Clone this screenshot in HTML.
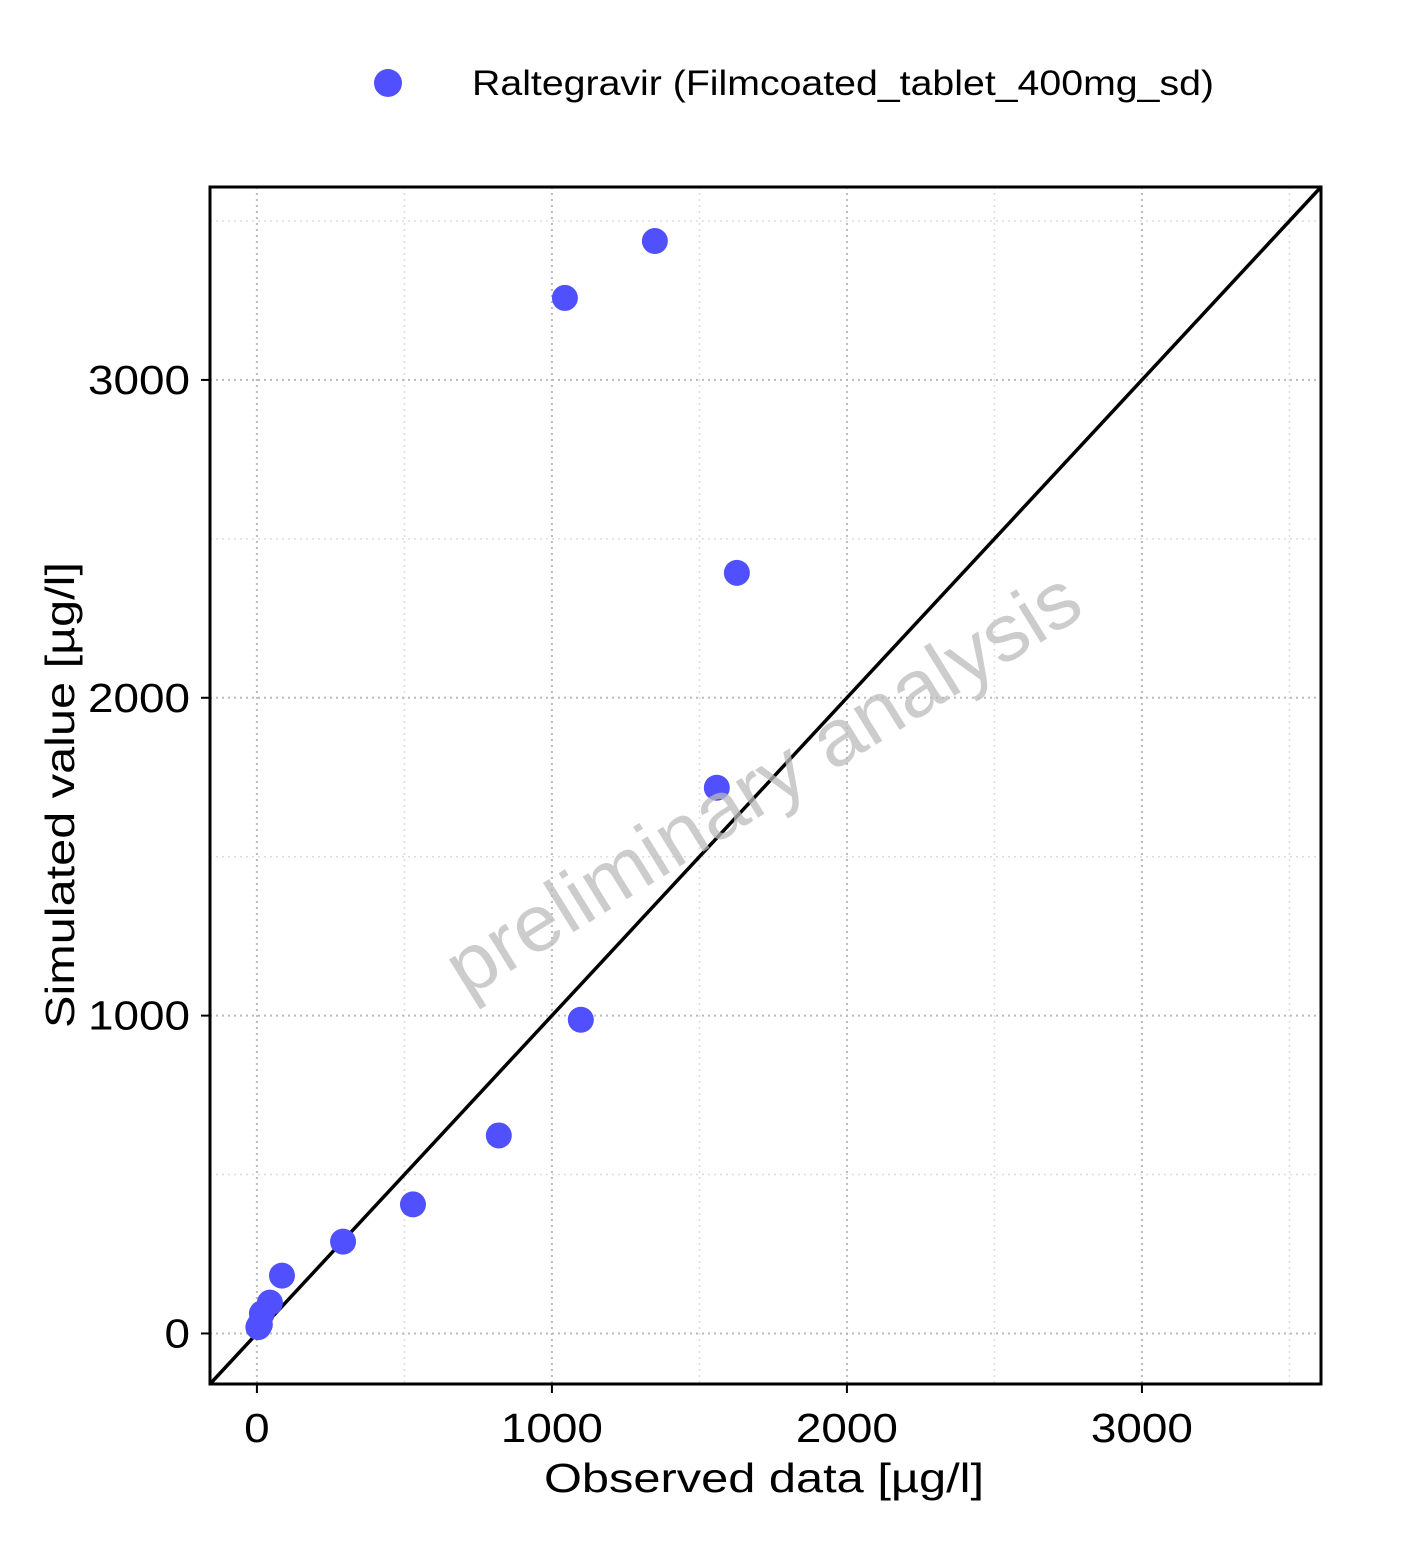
<!DOCTYPE html>
<html><head><meta charset="utf-8"><style>
html,body{margin:0;padding:0;background:#fff;}
svg{display:block;font-family:"Liberation Sans",sans-serif;}
</style></head><body>
<svg id="chart" width="1406" height="1546" viewBox="0 0 1406 1546" xmlns="http://www.w3.org/2000/svg">
<rect width="1406" height="1546" fill="#fff"/>
<g id="grid"></g>
<g id="marks"></g>
<g id="axes"></g>
<g>
<circle cx="388" cy="83" r="14" fill="#5050FF"/>
<text x="472" y="95" font-size="35" fill="#000" textLength="742" lengthAdjust="spacingAndGlyphs">Raltegravir (Filmcoated_tablet_400mg_sd)</text>
</g>
<text x="770" y="808" font-size="80" fill="#bbb" fill-opacity="0.75" text-anchor="middle" textLength="730" lengthAdjust="spacingAndGlyphs" transform="rotate(-31.8 770 795)">preliminary analysis</text>
<text x="764" y="1492" font-size="41" text-anchor="middle" textLength="440" lengthAdjust="spacingAndGlyphs">Observed data [µg/l]</text>
<text x="0" y="0" font-size="41" text-anchor="middle" textLength="466" lengthAdjust="spacingAndGlyphs" transform="translate(74 795) rotate(-90)">Simulated value [µg/l]</text>
</svg>
<script>
const obsX = [1044, 1349, 1627, 1559, 1098, 820, 529, 292, 85, 44, 17, 10, 5];
const simY = [3258, 3437, 2393, 1717, 987, 623, 406, 289, 182, 97, 63, 28, 20];
const majorTicks = [0, 1000, 2000, 3000];
const minorTicks = [500, 1500, 2500, 3500];
const tickLabels = ["0", "1000", "2000", "3000"];

const L=210, R=1321, T=187, B=1384;
const dMin=-159, dMax=3607;
const xs = v => L + (v - dMin) / (dMax - dMin) * (R - L);
const ys = v => B - (v - dMin) / (dMax - dMin) * (B - T);
const NS="http://www.w3.org/2000/svg";
function mk(parent, tag, attrs){const e=document.createElementNS(NS,tag);for(const k in attrs)e.setAttribute(k,attrs[k]);parent.appendChild(e);return e;}
const grid=document.getElementById('grid'), marks=document.getElementById('marks'), axes=document.getElementById('axes');

minorTicks.forEach(v=>{
  let g=mk(grid,'line',{x1:xs(v),x2:xs(v),y1:T,y2:B,stroke:'#ddd','stroke-width':1.5,'stroke-dasharray':'2 4'});
  
  
  let h=mk(grid,'line',{x1:L,x2:R,y1:ys(v),y2:ys(v),stroke:'#ddd','stroke-width':1.5,'stroke-dasharray':'2 4'});
  
  
});
majorTicks.forEach((v,i)=>{
  let g=mk(grid,'line',{x1:xs(v),x2:xs(v),y1:T,y2:B,stroke:'#bbb','stroke-width':2,'stroke-dasharray':'2 4'});
  
  
  let h=mk(grid,'line',{x1:L,x2:R,y1:ys(v),y2:ys(v),stroke:'#bbb','stroke-width':2,'stroke-dasharray':'2 4'});
  
  
  let tx=mk(axes,'line',{x1:xs(v),x2:xs(v),y1:B,y2:B+9,stroke:'#000','stroke-width':2});
  
  
  let ty=mk(axes,'line',{x1:L-9,x2:L,y1:ys(v),y2:ys(v),stroke:'#000','stroke-width':2});
  
  
  const w = 25.5*tickLabels[i].length;
  let lx=mk(axes,'text',{x:xs(v),y:B+58,'font-size':41,'text-anchor':'middle',textLength:w,lengthAdjust:'spacingAndGlyphs'});
  lx.textContent=tickLabels[i];
  
  
  let ly=mk(axes,'text',{x:L-20-w,y:ys(v)+14,'font-size':41,textLength:w,lengthAdjust:'spacingAndGlyphs'});
  ly.textContent=tickLabels[i];
  
  
});
let idl=mk(marks,'line',{x1:xs(dMin),y1:ys(dMin),x2:xs(dMax),y2:ys(dMax),stroke:'#000','stroke-width':3.5});


obsX.forEach((x,i)=>{
  let c=mk(marks,'circle',{cx:xs(x),cy:ys(simY[i]),r:13,fill:'#5050FF'});
  
  
});
let fr=mk(axes,'rect',{x:L,y:T,width:R-L,height:B-T,fill:'none',stroke:'#000','stroke-width':3});


</script>
</body></html>
